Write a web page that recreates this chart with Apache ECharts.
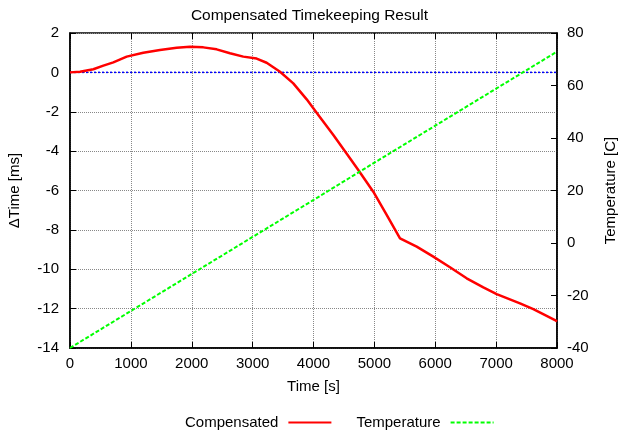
<!DOCTYPE html>
<html lang="en">
<head>
    <meta charset="UTF-8">
    <title>Compensated Timekeeping Result</title>
    <script src="https://cdn.jsdelivr.net/npm/echarts@6/dist/echarts.min.js"></script>
</head>
<body style="margin:0">
    <div id="main" style="width: 619px;height:435px;"></div>
    <script type="text/javascript">
        // time [s] and compensated offset [ms]
        var compTime = [0, 164, 383, 548, 712, 931, 1204, 1478, 1752, 1971, 2190, 2409, 2628, 2847, 3066, 3230,
            3450, 3668, 3888, 4079, 4326, 4599, 4736, 4982, 5202, 5421, 5695, 5968, 6242, 6516, 6790, 7009,
            7392, 7611, 7967, 8000];
        var compValue = [0.0, 0.03, 0.16, 0.34, 0.51, 0.80, 1.00, 1.14, 1.25, 1.30, 1.27, 1.17, 0.97, 0.80, 0.70, 0.49,
            0.03, -0.56, -1.37, -2.16, -3.18, -4.36, -4.96, -6.06, -7.24, -8.43, -8.85, -9.36, -9.90, -10.46, -10.92, -11.26,
            -11.73, -12.03, -12.58, -12.65];

        // temperature [C]
        var tempTime = [0, 1000, 2000, 3000, 4000, 5000, 6000, 7000, 8000];
        var tempValue = [-40, -25.9, -11.8, 2.3, 16.4, 30.6, 44.7, 58.8, 72.9];

        var zeroLine = [[0, 0], [8000, 0]];

        var compData = compTime.map(function (t, i) { return [t, compValue[i]]; });
        var tempData = tempTime.map(function (t, i) { return [t, tempValue[i]]; });

        var font = 'Liberation Sans, Arial, sans-serif';
        var plain = function (v) { return String(v); };
        var myChart = echarts.init(document.getElementById('main'));

        var option = {
            animation: false,
            title: {
                text: 'Compensated Timekeeping Result',
                left: 'center',
                top: 3,
                textStyle: { fontFamily: font, fontSize: 15.5, fontWeight: 'normal', color: '#000' }
            },
            legend: {
                data: ['Compensated', 'Temperature'],
                left: 180,
                top: 410,
                align: 'right',
                itemWidth: 43,
                itemHeight: 10,
                itemGap: 24,
                itemStyle: { opacity: 0 },
                textStyle: { fontFamily: font, fontSize: 15, color: '#000', padding: [0, 5, 0, 0] }
            },
            grid: {
                left: 70, right: 62, top: 33, bottom: 87,
                outerBoundsMode: 'none',
                containLabel: false,
                show: true, borderColor: '#000', borderWidth: 1.5
            },
            xAxis: [{
                type: 'value',
                min: 0, max: 8000, interval: 1000,
                name: 'Time [s]',
                nameLocation: 'middle',
                nameGap: 31,
                nameTextStyle: { fontFamily: font, fontSize: 15, color: '#000' },
                axisLine: { show: true, onZero: false, lineStyle: { color: '#000', width: 1.5 } },
                axisTick: { inside: true, length: 6, lineStyle: { color: '#000' } },
                axisLabel: { margin: 8, fontFamily: font, fontSize: 15, color: '#000', formatter: plain },
                splitLine: { show: true, lineStyle: { color: '#888', type: 'dotted', width: 1 } }
            }, {
                type: 'value', position: 'top',
                min: 0, max: 8000, interval: 1000,
                axisLine: { show: false, onZero: false },
                axisTick: { show: true, inside: true, length: 6, lineStyle: { color: '#000' } },
                axisLabel: { show: false },
                splitLine: { show: false }
            }],
            yAxis: [{
                type: 'value',
                min: -14, max: 2, interval: 2,
                name: 'ΔTime [ms]',
                nameLocation: 'middle',
                nameRotate: 90,
                nameGap: 48,
                nameTextStyle: { fontFamily: font, fontSize: 15, color: '#000' },
                axisLine: { show: true, onZero: false, lineStyle: { color: '#000', width: 1.5 } },
                axisTick: { show: true, inside: true, length: 6, lineStyle: { color: '#000' } },
                axisLabel: { margin: 11, fontFamily: font, fontSize: 15, color: '#000' },
                splitLine: { show: true, lineStyle: { color: '#888', type: 'dotted', width: 1 } }
            }, {
                type: 'value',
                position: 'right',
                min: -40, max: 80, interval: 20,
                name: 'Temperature [C]',
                nameLocation: 'middle',
                nameRotate: 90,
                nameGap: 46,
                nameTextStyle: { fontFamily: font, fontSize: 15, color: '#000' },
                axisLine: { show: true, onZero: false, lineStyle: { color: '#000', width: 1.5 } },
                axisTick: { show: true, inside: true, length: 6, lineStyle: { color: '#000' } },
                axisLabel: { margin: 10, fontFamily: font, fontSize: 15, color: '#000' },
                splitLine: { show: false }
            }],
            series: [{
                name: 'zero',
                type: 'line',
                data: zeroLine,
                symbol: 'none',
                lineStyle: { color: '#0000ff', width: 1.5, type: [2, 2] }
            }, {
                name: 'Compensated',
                type: 'line',
                data: compData,
                symbol: 'none',
                color: '#ff0000',
                lineStyle: { color: '#ff0000', width: 2.5 }
            }, {
                name: 'Temperature',
                type: 'line',
                yAxisIndex: 1,
                data: tempData,
                symbol: 'none',
                color: '#00ff00',
                lineStyle: { color: '#00ff00', width: 2, type: [4, 2] }
            }]
        };

        myChart.setOption(option);
    </script>
</body>
</html>
